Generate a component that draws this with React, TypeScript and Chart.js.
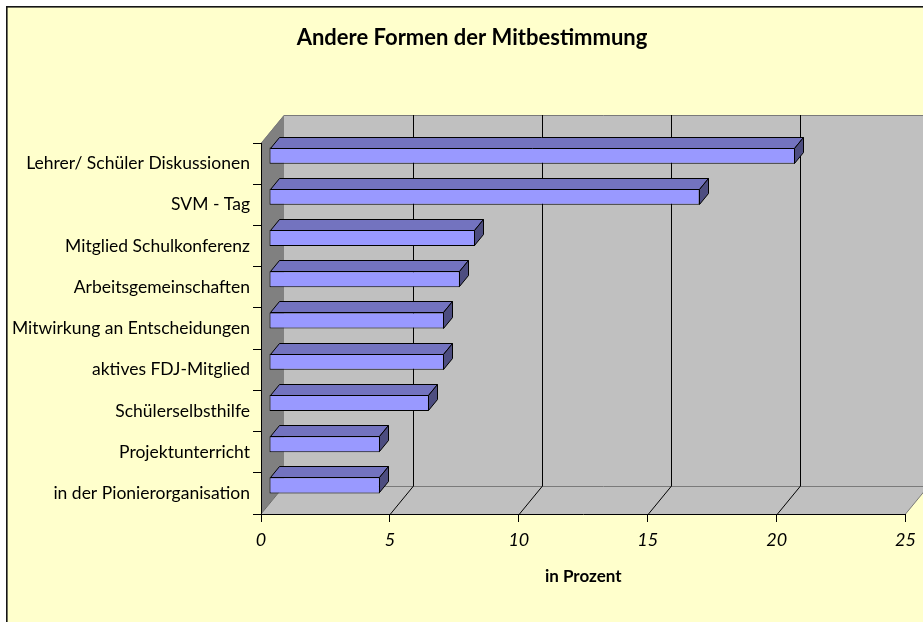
import { useEffect, useRef } from "react";
import { Chart, registerables } from "chart.js";

Chart.register(...registerables);

const chartTitle = "Andere Formen der Mitbestimmung";
const xAxisTitle = "in Prozent";
const categories = [
  "Lehrer/ Schüler Diskussionen",
  "SVM - Tag",
  "Mitglied Schulkonferenz",
  "Arbeitsgemeinschaften",
  "Mitwirkung an Entscheidungen",
  "aktives FDJ-Mitglied",
  "Schülerselbsthilfe",
  "Projektunterricht",
  "in der Pionierorganisation",
];
const values = [20.4, 16.7, 8.0, 7.4, 6.8, 6.8, 6.2, 4.3, 4.3];
const xTicks = [0, 5, 10, 15, 20, 25];

const DEPTH = { dx: 23, dy: -28 };
const BAR_SHIFT = { dx: 8, dy: -8 };
const BAR_DEPTH = { dx: 9, dy: -11 };

function poly(ctx: CanvasRenderingContext2D, pts: number[][], fill: string | null, stroke?: string) {
  ctx.beginPath();
  ctx.moveTo(pts[0][0], pts[0][1]);
  for (let i = 1; i < pts.length; i++) ctx.lineTo(pts[i][0], pts[i][1]);
  ctx.closePath();
  if (fill) {
    ctx.fillStyle = fill;
    ctx.fill();
  }
  if (stroke) {
    ctx.strokeStyle = stroke;
    ctx.lineWidth = 1;
    ctx.stroke();
  }
}

function line(ctx: CanvasRenderingContext2D, x1: number, y1: number, x2: number, y2: number, color: string) {
  ctx.beginPath();
  ctx.moveTo(x1, y1);
  ctx.lineTo(x2, y2);
  ctx.strokeStyle = color;
  ctx.lineWidth = 1;
  ctx.stroke();
}

const threeD = {
  id: "threeD",
  beforeDraw(chart: any) {
    const { ctx, chartArea: a, scales } = chart;
    const xs = scales.x;
    const W = chart.width;
    const H = chart.height;
    ctx.save();
    ctx.fillStyle = "#ffffff";
    ctx.fillRect(0, 0, W, H);
    ctx.fillStyle = "#FFFFCC";
    ctx.fillRect(7, 7, W, H);
    ctx.fillStyle = "#151515";
    ctx.fillRect(6, 6, W, 1.6);
    ctx.fillRect(6, 6, 1.6, H);

    const L = a.left;
    const R = a.right;
    const T = a.top;
    const B = a.bottom;
    const { dx, dy } = DEPTH;
    // back wall
    ctx.fillStyle = "#C0C0C0";
    ctx.fillRect(L + dx, T + dy, R - L + 40, B - T);
    // left wall
    poly(ctx, [[L, T], [L + dx, T + dy], [L + dx, B + dy], [L, B]], "#808080");
    // floor
    poly(ctx, [[L, B], [R, B], [R + dx, B + dy], [L + dx, B + dy]], "#C0C0C0");
    // edges
    const g = "#7a7a7a";
    line(ctx, L, T + 0.5, L + dx, T + dy + 0.5, g);
    line(ctx, L + dx, T + dy + 0.5, W, T + dy + 0.5, g);
    line(ctx, L + dx, B + dy + 0.5, W, B + dy + 0.5, g);
    line(ctx, L, B, L + dx, B + dy, "#6a6a6a");
    line(ctx, R, B, R + dx, B + dy, g);
    // grid lines on back wall and floor
    for (const v of xTicks) {
      if (v === xTicks[0] || v === xTicks[xTicks.length - 1]) continue;
      const px = Math.round(xs.getPixelForValue(v)) + 0.5;
      line(ctx, px + dx, T + dy, px + dx, B + dy, "#000");
      line(ctx, px, B, px + dx, B + dy, "#000");
    }
    ctx.restore();
  },
  beforeDatasetDraw(chart: any) {
    chart.ctx.save();
    chart.ctx.translate(BAR_SHIFT.dx, BAR_SHIFT.dy);
  },
  afterDatasetDraw(chart: any, args: any) {
    const ctx = chart.ctx;
    const { dx, dy } = BAR_DEPTH;
    args.meta.data.forEach((el: any) => {
      const { x, y, base, height } = el.getProps(["x", "y", "base", "height"], true);
      const t = Math.round(y - height / 2) + 0.5;
      const b = Math.round(y + height / 2) - 0.5;
      const xr = Math.round(x) - 0.5;
      const xl = Math.round(base) + 0.5;
      poly(ctx, [[xl, t], [xr, t], [xr + dx, t + dy], [xl + dx, t + dy]], "#7373BF", "#000");
      poly(ctx, [[xr, t], [xr + dx, t + dy], [xr + dx, b + dy], [xr, b]], "#4D4D80", "#000");
    });
    ctx.restore();
  },
  afterDraw(chart: any) {
    const ctx = chart.ctx;
    ctx.save();
    ctx.font = "bold 22px Lato";
    ctx.fillStyle = "#000";
    ctx.textAlign = "center";
    ctx.textBaseline = "alphabetic";
    ctx.fillText(chartTitle, 472, 45);
    ctx.restore();
  },
};

export default function App() {
  const ref = useRef<HTMLCanvasElement | null>(null);
  useEffect(() => {
    if (!ref.current) return;
    const chart = new Chart(ref.current, {
      type: "bar",
      data: {
        labels: categories,
        datasets: [
          {
            data: values,
            backgroundColor: "#9999FF",
            borderColor: "#000",
            borderWidth: 1,
            borderSkipped: false,
            barPercentage: 0.39,
            categoryPercentage: 1,
            clip: false,
          } as any,
        ],
      },
      options: {
        indexAxis: "y",
        animation: false,
        responsive: false,
        events: [],
        layout: { padding: { left: 0, top: 143, right: 16, bottom: 0 } },
        plugins: {
          legend: { display: false },
          title: { display: false },
          tooltip: { enabled: false },
        },
        scales: {
          x: {
            min: 0,
            max: 25,
            afterBuildTicks: (s: any) => {
              s.ticks = xTicks.map((v) => ({ value: v }));
            },
            ticks: {
              color: "#000",
              padding: 7,
              maxRotation: 0,
              font: { family: "Lato", size: 18, style: "italic" },
            },
            grid: { drawOnChartArea: false, drawTicks: true, tickLength: 8, color: "#000" },
            border: { display: true, color: "#000" },
            title: {
              display: true,
              text: xAxisTitle,
              color: "#000",
              font: { family: "Lato", size: 17, weight: "bold" },
              padding: { top: 4, bottom: 35 },
            },
            afterFit: (s: any) => {
              s.height = 108;
            },
          },
          y: {
            ticks: { color: "#000", padding: 3, font: { family: "Lato", size: 17.5 } },
            grid: { drawOnChartArea: false, drawTicks: true, tickLength: 8, color: "#000", offset: true },
            border: { display: true, color: "#000" },
            afterFit: (s: any) => {
              s.width = 261;
            },
          },
        },
      } as any,
      plugins: [threeD],
    });
    return () => chart.destroy();
  }, []);
  return (
    <canvas
      ref={ref}
      width={923}
      height={622}
      style={{ position: "absolute", left: 0, top: 0, display: "block" }}
    />
  );
}
